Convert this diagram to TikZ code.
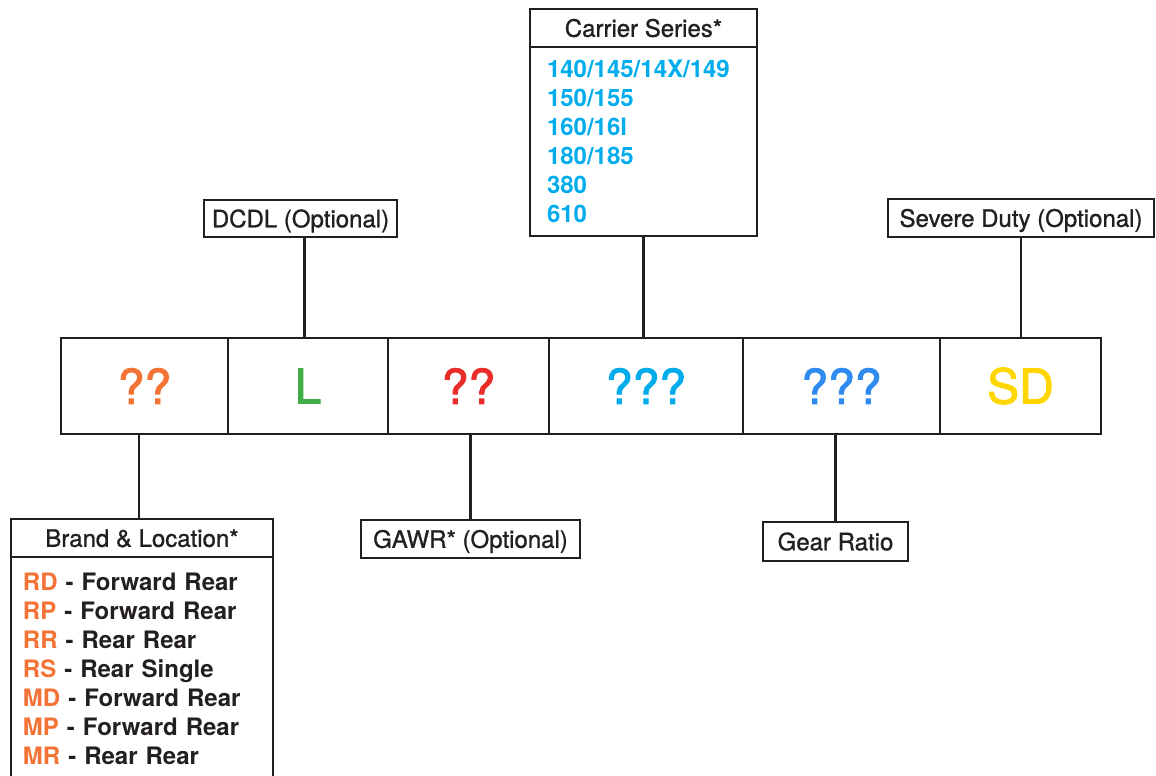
\documentclass[tikz,border=0pt]{standalone}
\usepackage{fontspec}
\setmainfont{TeX Gyre Heros}
\newfontfamily\heavyfont[FakeBold=1]{TeX Gyre Heros}
\newfontfamily\codefont[FakeBold=2]{TeX Gyre Heros}
\usepackage{tikz}
\usepackage{xcolor}
\usetikzlibrary{positioning}
\definecolor{lineDark}{RGB}{35, 31, 32}
\definecolor{brandOrange}{RGB}{243, 114, 54}
\definecolor{dcdlGreen}{RGB}{64, 173, 73}
\definecolor{gawrRed}{RGB}{234, 45, 40}
\definecolor{carrierCyan}{RGB}{0, 172, 236}
\definecolor{ratioBlue}{RGB}{47, 139, 240}
\definecolor{dutyYellow}{RGB}{255, 214, 0}

\tikzset{
    codecell/.style={draw=lineDark, line width=1.3pt, minimum height=48pt, inner sep=0pt, outer sep=0pt, font=\codefont\fontsize{24}{28}\selectfont},
    tagbox/.style={draw=lineDark, line width=1.3pt, fill=white, inner sep=0pt, outer sep=0pt, text=lineDark, text height=10pt, text depth=1.2pt, font=\heavyfont\fontsize{12}{14.5}\selectfont},
    listbox/.style={draw=lineDark, line width=1.3pt, inner sep=0pt, outer sep=0pt, align=left, font=\bfseries\fontsize{12}{14.5}\selectfont},
    conn/.style={draw=lineDark, line width=1.3pt}
}

\begin{document}
\begin{tikzpicture}[x=0.5pt, y=-0.5pt]
            \clip (0,0) rectangle (1156,776);
            \useasboundingbox (0,0) rectangle (1156,776);

            % Code boxes
            \node[codecell, minimum width=83.5pt, text=brandOrange] at (144.5,386) (brand) {??};
            \node[codecell, minimum width=80pt, text=dcdlGreen, right=0pt of brand] (dcdl) {L};
            \node[codecell, minimum width=80.5pt, text=gawrRed, right=0pt of dcdl] (gawr) {??};
            \node[codecell, minimum width=97pt, text=carrierCyan, right=0pt of gawr] (series) {???};
            \node[codecell, minimum width=98.5pt, text=ratioBlue, right=0pt of series] (ratio) {???};
            \node[codecell, minimum width=80.5pt, text=dutyYellow, right=0pt of ratio] (duty) {SD};

            % Carrier Series box
            \node[tagbox, minimum width=113.5pt, minimum height=19pt] at (643.5,28) (seriesTitle) {Carrier Series*};
            \node[listbox, below=0pt of seriesTitle, text width=96.5pt, inner xsep=8.5pt, minimum height=94.5pt, text=carrierCyan] (seriesList) {
                140/145/14X/149\\
                150/155\\
                160/16l\\
                180/185\\
                380\\
                610
            };

            % Option boxes
            \node[tagbox, minimum width=96.5pt, minimum height=18.5pt] at (300.5,218.5) (dcdlTag) {DCDL (Optional)};
            \node[tagbox, minimum width=133pt, minimum height=19pt] at (1021,218) (dutyTag) {Severe Duty (Optional)};
            \node[tagbox, minimum width=109.5pt, minimum height=19pt] at (470.5,539) (gawrTag) {GAWR* (Optional)};
            \node[tagbox, minimum width=72.5pt, minimum height=19.5pt] at (835.5,541.5) (ratioTag) {Gear Ratio};

            % Brand & Location box
            \node[tagbox, minimum width=131pt, minimum height=19pt] at (142,538) (brandTitle) {Brand \& Location*};
            \node[listbox, below=0pt of brandTitle, text width=119pt, inner xsep=6pt, inner ysep=8pt, text=lineDark] (brandList) {
                \textcolor{brandOrange}{RD} - Forward Rear\\
                \textcolor{brandOrange}{RP} - Forward Rear\\
                \textcolor{brandOrange}{RR} - Rear Rear\\
                \textcolor{brandOrange}{RS} - Rear Single\\
                \textcolor{brandOrange}{MD} - Forward Rear\\
                \textcolor{brandOrange}{MP} - Forward Rear\\
                \textcolor{brandOrange}{MR} - Rear Rear
            };

            % Connectors
            \draw[conn] (seriesList.south) -- (seriesList.south |- series.north);
            \draw[conn] ([xshift=2pt]dcdlTag.south) -- ([xshift=2pt]dcdlTag.south |- dcdl.north);
            \draw[conn] (dutyTag.south) -- (dutyTag.south |- duty.north);
            \draw[conn] ([xshift=-1.5pt]brandTitle.north) -- ([xshift=-1.5pt]brandTitle.north |- brand.south);
            \draw[conn] (gawrTag.north) -- (gawrTag.north |- gawr.south);
            \draw[conn] (ratioTag.north) -- (ratioTag.north |- ratio.south);
        \end{tikzpicture}
\end{document}
